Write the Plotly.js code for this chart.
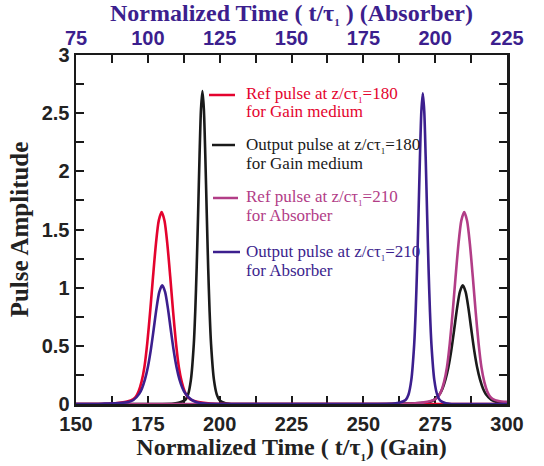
<!DOCTYPE html>
<html>
<head>
<meta charset="utf-8">
<script src="https://cdn.plot.ly/plotly-3.0.1.min.js"></script>
<style>html,body{margin:0;padding:0;background:#fff;}#chart{width:544px;height:466px;}</style>
</head>
<body>
<div id="chart"></div>
<script>
// Gain-axis traces (bottom axis, t/tau1 Gain)
var refGainT = [150, 158.8, 162.8, 165.8, 167.8, 169.8, 170.8, 171.8, 172.8, 173.8, 174.8, 175.8, 176.8, 177.8, 178.8, 179.8, 180.8, 181.8, 182.8, 183.8, 184.8, 185.8, 186.8, 187.8, 188.8, 189.8, 191.8, 193.8, 196.8, 200.8, 300];
var refGainA = [0, 0, 0.004, 0.012, 0.022, 0.04, 0.062, 0.11, 0.19, 0.317, 0.524, 0.792, 1.092, 1.373, 1.576, 1.65, 1.576, 1.373, 1.092, 0.792, 0.524, 0.317, 0.19, 0.11, 0.062, 0.04, 0.022, 0.012, 0.004, 0, 0];

var outGainT = [150, 180, 184, 186, 188, 189, 190, 191, 191.5, 192, 192.5, 193, 193.5, 194, 194.5, 195, 195.5, 196, 196.5, 197, 198, 199, 200, 202, 204, 210, 258, 264.6, 269.6, 272.6, 274.6, 276.6, 277.6, 278.6, 279.6, 280.6, 281.6, 282.6, 283.6, 284.6, 285.6, 286.6, 287.6, 288.6, 289.6, 290.6, 291.6, 292.6, 294.6, 296.6, 300];
var outGainA = [0, 0, 0.004, 0.012, 0.034, 0.081, 0.209, 0.517, 0.794, 1.173, 1.641, 2.136, 2.536, 2.69, 2.536, 2.136, 1.641, 1.173, 0.794, 0.517, 0.209, 0.081, 0.031, 0.006, 0, 0, 0, 0.003, 0.008, 0.016, 0.036, 0.087, 0.136, 0.211, 0.316, 0.459, 0.636, 0.82, 0.964, 1.02, 0.964, 0.82, 0.636, 0.459, 0.316, 0.211, 0.136, 0.087, 0.036, 0.016, 0.004];

// Absorber-axis traces (top axis, t/tau1 Absorber)
var refAbsT = [75, 185, 190.1, 193.1, 196.1, 198.1, 200.1, 201.1, 202.1, 203.1, 204.1, 205.1, 206.1, 207.1, 208.1, 209.1, 210.1, 211.1, 212.1, 213.1, 214.1, 215.1, 216.1, 217.1, 218.1, 219.1, 220.1, 222.1, 225];
var refAbsA = [0, 0, 0.002, 0.006, 0.014, 0.024, 0.042, 0.064, 0.11, 0.19, 0.317, 0.524, 0.792, 1.092, 1.373, 1.576, 1.65, 1.576, 1.373, 1.092, 0.792, 0.524, 0.317, 0.19, 0.11, 0.064, 0.042, 0.026, 0.018];

var outAbsT = [75, 82, 85, 90, 93, 95, 97, 98, 99, 100, 101, 102, 103, 104, 105, 106, 107, 108, 109, 110, 111, 112, 113, 115, 117, 120, 125, 130, 180, 185.7, 187.7, 189.7, 190.7, 191.7, 192.7, 193.2, 193.7, 194.2, 194.7, 195.2, 195.7, 196.2, 196.7, 197.2, 197.7, 198.2, 198.7, 199.7, 200.7, 201.7, 203.7, 205.7, 210, 225];
var outAbsA = [0, 0, 0.003, 0.008, 0.016, 0.034, 0.087, 0.136, 0.211, 0.316, 0.459, 0.636, 0.82, 0.964, 1.02, 0.964, 0.82, 0.636, 0.459, 0.316, 0.211, 0.14, 0.092, 0.04, 0.016, 0.004, 0, 0, 0, 0.004, 0.012, 0.034, 0.08, 0.207, 0.513, 0.788, 1.164, 1.629, 2.12, 2.517, 2.67, 2.517, 2.12, 1.629, 1.164, 0.788, 0.513, 0.207, 0.08, 0.031, 0.006, 0, 0, 0];

var gainTicks = [150, 175, 200, 225, 250, 275, 300];
var absTicks = [75, 100, 125, 150, 175, 200, 225];
var ampTicks = [0, 0.5, 1, 1.5, 2, 2.5, 3];
var ampTickText = ['0', '0.5', '1', '1.5', '2', '2.5', '3'];

var sub1 = '<sub><span style="font-size:9px">1</span></sub>';
var legendLines = [
  ['Ref pulse at z/cτ' + sub1 + '=180', 'for Gain medium'],
  ['Output pulse at z/cτ' + sub1 + '=180', 'for Gain medium'],
  ['Ref pulse at z/cτ' + sub1 + '=210', 'for Absorber'],
  ['Output pulse at z/cτ' + sub1 + '=210', 'for Absorber']
];

var colors = ['#e4032e', '#1a1a1a', '#b23d87', '#3c1f8e'];
var lw = 2.6;

function tr(x, y, c, xa) {
  return {x: x, y: y, xaxis: xa, yaxis: 'y', type: 'scatter', mode: 'lines',
    line: {color: c, width: lw, shape: 'spline', smoothing: 0.7}, showlegend: false, hoverinfo: 'skip'};
}

var data = [
  tr(refAbsT, refAbsA, colors[2], 'x2'),
  tr(outGainT, outGainA, colors[1], 'x'),
  tr(refGainT, refGainA, colors[0], 'x'),
  tr(outAbsT, outAbsA, colors[3], 'x2')
];

var serif = 'Liberation Serif, Times New Roman, serif';
var sans = 'Liberation Sans, Arial, sans-serif';
var axisCol = '#1a1a1a';

// legend geometry (paper coords)
var legLineX0 = [0.3086, 0.3155, 0.3179, 0.3179];
var legLineX1 = [0.3689, 0.3689, 0.3759, 0.3805];
var legY1 = [0.8854, 0.7421, 0.5903, 0.4355];
var legY2 = [0.8367, 0.6905, 0.5387, 0.3811];
var shapes = [], annotations = [];
for (var i = 0; i < 4; i++) {
  shapes.push({type: 'line', xref: 'paper', yref: 'paper', x0: legLineX0[i], x1: legLineX1[i], y0: legY1[i], y1: legY1[i], line: {color: colors[i], width: 2.5}});
  annotations.push({xref: 'paper', yref: 'paper', x: 0.3898, y: legY1[i], xanchor: 'left', yanchor: 'middle', showarrow: false, text: legendLines[i][0], font: {family: serif, size: 17, color: colors[i]}});
  annotations.push({xref: 'paper', yref: 'paper', x: 0.3898, y: legY2[i], xanchor: 'left', yanchor: 'middle', showarrow: false, text: legendLines[i][1], font: {family: serif, size: 17, color: colors[i]}});
}

var titleSub = '<sub><span style="font-size:11px">1</span></sub>';

var layout = {
  width: 544, height: 466,
  margin: {l: 76, r: 37, t: 55, b: 62},
  paper_bgcolor: '#fff', plot_bgcolor: '#fff',
  showlegend: false,
  xaxis: {
    range: [150, 300], tickvals: gainTicks, ticktext: gainTicks.map(String),
    ticks: 'inside', ticklen: 8, tickwidth: 2, tickcolor: axisCol,
    minor: {dtick: 12.5, tick0: 150, ticks: 'inside', ticklen: 8, tickwidth: 2, tickcolor: axisCol},
    showline: true, linecolor: axisCol, linewidth: 2.5, showgrid: false, zeroline: false,
    tickfont: {family: sans, size: 20, color: '#222', weight: 'bold'},
    title: {text: 'Normalized Time ( t/τ' + titleSub + ') (Gain)', font: {family: serif, size: 24, color: '#222', weight: 'bold'}, standoff: 0},
    layer: 'below traces'
  },
  xaxis2: {
    overlaying: 'x', side: 'top', anchor: 'y',
    range: [75, 225], tickvals: absTicks, ticktext: absTicks.map(String),
    ticks: 'inside', ticklen: 8, tickwidth: 2, tickcolor: axisCol,
    minor: {dtick: 12.5, tick0: 75, ticks: 'inside', ticklen: 8, tickwidth: 2, tickcolor: axisCol},
    showline: true, linecolor: axisCol, linewidth: 2.5, showgrid: false, zeroline: false,
    tickfont: {family: sans, size: 20, color: '#3c1f8e', weight: 'bold'},
    title: {text: 'Normalized Time ( t/τ' + titleSub + ' ) (Absorber)', font: {family: serif, size: 24, color: '#3c1f8e', weight: 'bold'}, standoff: 2},
    layer: 'below traces'
  },
  yaxis: {
    range: [0, 3], tickvals: ampTicks, ticktext: ampTickText,
    ticks: 'inside', ticklen: 8, tickwidth: 2, tickcolor: axisCol,
    minor: {dtick: 0.25, tick0: 0, ticks: 'inside', ticklen: 8, tickwidth: 2, tickcolor: axisCol},
    showline: true, linecolor: axisCol, linewidth: 2.5, mirror: 'ticks', showgrid: false, zeroline: false,
    tickfont: {family: sans, size: 20, color: '#222', weight: 'bold'},
    title: {text: 'Pulse Amplitude', font: {family: serif, size: 25, color: '#222', weight: 'bold'}, standoff: 6},
    layer: 'below traces'
  },
  shapes: shapes,
  annotations: annotations
};

Plotly.newPlot('chart', data, layout, {displayModeBar: false, staticPlot: true});
</script>
</body>
</html>
